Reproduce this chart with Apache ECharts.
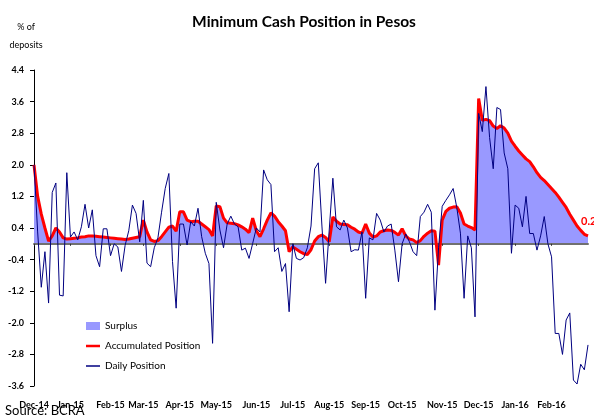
<!DOCTYPE html>
<html>
<head>
<meta charset="utf-8">
<script src="https://cdn.jsdelivr.net/npm/echarts@6/dist/echarts.min.js"></script>
<style>
  html, body { margin: 0; padding: 0; background: #fff; }
  #chart { width: 594px; height: 415px; }
</style>
</head>
<body>
<div id="chart"></div>
<script>
// samples every 3 days from 1 Dec 2014
var startDate = '2014-12-01';
var stepDays = 3;

var monthStarts = ['2014-12-01', '2015-01-01', '2015-02-01', '2015-03-01', '2015-04-01',
  '2015-05-01', '2015-06-01', '2015-07-01', '2015-08-01', '2015-09-01', '2015-10-01',
  '2015-11-01', '2015-12-01', '2016-01-01', '2016-02-01'];
var monthLabels = ['Dec-14', 'Jan-15', 'Feb-15', 'Mar-15', 'Apr-15', 'May-15', 'Jun-15',
  'Jul-15', 'Aug-15', 'Sep-15', 'Oct-15', 'Nov-15', 'Dec-15', 'Jan-16', 'Feb-16'];

var yTicks = [-3.6, -2.8, -2.0, -1.2, -0.4, 0.4, 1.2, 2.0, 2.8, 3.6, 4.4];

var accumulated = [
  2.0, 1.2, 0.75, 0.4, 0.07, 0.2, 0.4, 0.3, 0.15, 0.12,
  0.13, 0.14, 0.15, 0.17, 0.18, 0.2, 0.2, 0.19, 0.18, 0.17,
  0.16, 0.15, 0.14, 0.13, 0.12, 0.11, 0.12, 0.14, 0.16, 0.18,
  0.6, 0.3, 0.1, 0.06, 0.08, 0.18, 0.3, 0.42, 0.45, 0.32,
  0.81, 0.81, 0.6, 0.56, 0.57, 0.57, 0.5, 0.43, 0.36, 0.2,
  0.96, 0.94, 0.65, 0.53, 0.52, 0.51, 0.48, 0.43, 0.37, 0.28,
  0.65, 0.33, 0.18, 0.38, 0.6, 0.78, 0.7, 0.56, 0.45, 0.33,
  -0.2, -0.08, -0.14, -0.2, -0.25, -0.27, -0.15, 0.07, 0.18, 0.22,
  0.16, 0.05, 0.68, 0.57, 0.5, 0.49, 0.48, 0.42, 0.37, 0.3,
  0.27, 0.5, 0.27, 0.17, 0.2, 0.3, 0.33, 0.35, 0.34, 0.29,
  0.22, 0.38, 0.2, 0.12, 0.1, 0.03, 0.08, 0.19, 0.27, 0.33,
  0.32, -0.54, 0.6, 0.82, 0.9, 0.93, 0.94, 0.78, 0.5, 0.45,
  0.41, 0.35, 3.68, 3.13, 3.15, 3.12, 2.98, 2.92, 2.99, 2.93,
  2.8, 2.6, 2.47, 2.35, 2.25, 2.15, 2.08, 1.95, 1.8, 1.68,
  1.6, 1.5, 1.4, 1.3, 1.18, 1.05, 0.92, 0.75, 0.6, 0.45,
  0.34, 0.24, 0.2
];

var daily = [
  2.0, 0.3, -1.1, -0.2, -1.5, 1.3, 1.54, -1.3, -1.32, 1.8,
  0.17, 0.3, 0.1, 0.43, 1.0, 0.4, 0.86, -0.3, -0.58, 0.38,
  0.38, -0.3, 0.0, -0.08, -0.7, -0.04, 0.33, 0.98, 0.77, 0.05,
  1.1, -0.49, -0.58, -0.1, 0.15, 0.8, 1.4, 1.78, -0.45, -1.63,
  0.5, 0.5, -0.03, 0.56, 0.45, 0.9, 0.18, -0.24, -0.5, -2.52,
  1.05, 0.35, -0.1, 0.5, 0.7, 0.5, 0.43, -0.16, -0.11, -0.37,
  0.01, 0.4, 0.3, 1.87, 1.62, 1.5, -0.2, -0.1, -0.7, -0.5,
  -1.72, 0.0, -0.37, -0.41, -0.35, -0.1, 0.45, 1.9, 2.05, 0.45,
  -1.0, 0.35, 1.66, 0.43, 0.35, 0.6, 0.4, -0.2, -0.15, -0.16,
  0.3, -1.38, 0.15, 0.1, 0.77, 0.6, 0.3, 0.45, 0.5, -0.16,
  -0.96, 0.0, 0.25, 0.05, -0.2, -0.3, 0.69, 0.8, 1.0, 0.8,
  -1.68, -0.1, 0.95, 1.1, 1.24, 1.4, 0.92, 0.27, -1.38, 0.2,
  -0.1, -1.85, 3.3, 2.84, 3.98, 2.69, 1.9, 3.45, 3.4, 2.3,
  1.9, -0.24, 0.98, 0.9, 0.43, 1.2, 0.26, 0.26, -0.16, 0.2,
  0.69, 0.0, -0.33, -2.27, -2.27, -2.8, -1.93, -1.75, -3.45, -3.55,
  -3.05, -3.19, -2.56
];

var dayMs = 86400000;
var t0 = Date.parse(startDate);
var dates = [];
for (var i = 0; i < daily.length; i++) {
  dates.push(new Date(t0 + i * stepDays * dayMs).toISOString().slice(0, 10));
}
// month label goes on the sample nearest the 1st of the month
var labelAt = {};
monthStarts.forEach(function (d, k) {
  labelAt[Math.round((Date.parse(d) - t0) / dayMs / stepDays)] = monthLabels[k];
});
function isMonth(index) { return labelAt[index] !== undefined; }

var font = 'Lato, "DejaVu Sans", sans-serif';
var legendText = { fontFamily: font, fontSize: 10, color: '#000' };

var chart = echarts.init(document.getElementById('chart'));
chart.setOption({
  animation: false,
  backgroundColor: '#fff',
  grid: { left: 34, right: 6, top: 70, bottom: 29 },
  graphic: [
    { type: 'text', x: 304, y: 22, style: { text: 'Minimum Cash Position in Pesos',
      font: 'bold 15.5px ' + font, fill: '#000', align: 'center', verticalAlign: 'middle' } },
    { type: 'text', x: 26, y: 27, style: { text: '% of', font: '9px ' + font,
      fill: '#000', align: 'center', verticalAlign: 'middle' } },
    { type: 'text', x: 26, y: 45, style: { text: 'deposits', font: '9px ' + font,
      fill: '#000', align: 'center', verticalAlign: 'middle' } },
    { type: 'text', x: 5, y: 404, style: { text: 'Source: BCRA', font: '13px ' + font,
      fill: '#000', align: 'left', verticalAlign: 'top' } }
  ],
  legend: [
    { data: [{ name: 'Surplus', icon: 'rect' }], left: 86, top: 321, padding: 0, itemWidth: 14, itemHeight: 8,
      itemStyle: { borderWidth: 0 }, textStyle: legendText, selectedMode: false },
    { data: [{ name: 'Accumulated Position', icon: 'rect' }], left: 86, top: 341, padding: 0, itemWidth: 14, itemHeight: 2.5,
      itemStyle: { borderWidth: 0 }, textStyle: legendText, selectedMode: false },
    { data: [{ name: 'Daily Position', icon: 'rect' }], left: 86, top: 361, padding: 0, itemWidth: 14, itemHeight: 1.5,
      itemStyle: { borderWidth: 0 }, textStyle: legendText, selectedMode: false }
  ],
  xAxis: [
    {
      type: 'category',
      data: dates,
      boundaryGap: false,
      z: 2,
      axisLine: { show: true, onZero: true, lineStyle: { color: '#707070', width: 2 } },
      axisTick: { show: true, interval: isMonth, length: 2, lineStyle: { color: '#333' } },
      axisLabel: { show: false }
    },
    {
      type: 'category',
      data: dates,
      boundaryGap: false,
      position: 'bottom',
      axisLine: { show: false, onZero: false },
      axisTick: { show: false },
      axisLabel: {
        interval: isMonth,
        formatter: function (value, index) { return labelAt[index]; },
        margin: 15,
        fontFamily: font,
        fontWeight: 'bold',
        fontSize: 9,
        color: '#000'
      }
    }
  ],
  yAxis: {
    type: 'value',
    min: -3.6,
    max: 4.4,
    splitLine: { show: false },
    axisLine: { show: true, lineStyle: { color: '#000', width: 1 } },
    axisTick: { show: true, length: 4, customValues: yTicks, lineStyle: { color: '#000' } },
    axisLabel: {
      customValues: yTicks,
      formatter: function (v) { return v.toFixed(1); },
      margin: 10,
      fontFamily: font,
      fontWeight: 'bold',
      fontSize: 9,
      color: '#000'
    }
  },
  series: [
    {
      name: 'Surplus',
      type: 'line',
      data: accumulated,
      symbol: 'none',
      silent: true,
      z: 1,
      lineStyle: { opacity: 0 },
      itemStyle: { color: '#9999FF' },
      areaStyle: { color: '#9999FF', opacity: 1 }
    },
    {
      name: 'Accumulated Position',
      type: 'line',
      data: accumulated,
      symbol: 'none',
      z: 3,
      lineStyle: { color: '#FF0000', width: 3 },
      itemStyle: { color: '#FF0000' },
      endLabel: {
        show: true,
        formatter: function (p) { return p.value.toFixed(1); },
        color: '#FF0000',
        fontFamily: font,
        fontWeight: 'bold',
        fontSize: 11,
        distance: 0,
        offset: [-7, -14]
      }
    },
    {
      name: 'Daily Position',
      type: 'line',
      data: daily,
      symbol: 'none',
      z: 4,
      lineStyle: { color: '#000080', width: 1 },
      itemStyle: { color: '#000080' }
    }
  ]
});
</script>
</body>
</html>
